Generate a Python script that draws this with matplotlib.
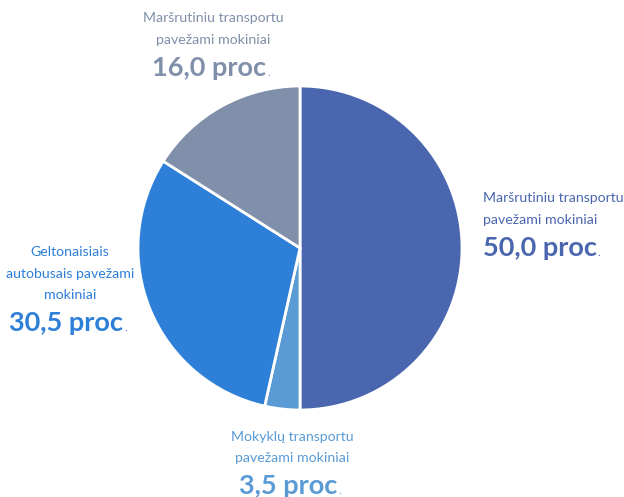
import matplotlib
matplotlib.use('Agg')
import matplotlib.pyplot as plt

categories = ['Maršrutiniu transportu\npavežami mokiniai',
              'Mokyklų transportu\npavežami mokiniai',
              'Geltonaisiais\nautobusais pavežami\nmokiniai',
              'Maršrutiniu transportu\npavežami mokiniai']
values = [50.0, 3.5, 30.5, 16.0]
value_labels = ['50,0 proc', '3,5 proc', '30,5 proc', '16,0 proc']
colors = ['#4a66ae', '#5b9bd5', '#2e7fd8', '#8090aa']

plt.rcParams['font.family'] = ['Lato', 'DejaVu Sans']

fig = plt.figure(figsize=(6.24, 4.97), dpi=100)
ax = fig.add_axes([0, 0, 1, 1])

ax.pie(values, colors=colors, center=(300, 249), radius=162, startangle=90,
       counterclock=False, frame=True,
       wedgeprops=dict(edgecolor='white', linewidth=2))
ax.set_xlim(0, 624)
ax.set_ylim(0, 497)
ax.set_aspect('equal')
ax.axis('off')

# x, centre of first line (px from top), alignment
label_pos = [(483, 198, 'left'), (292, 437, 'center'), (70, 252, 'center'), (213, 18, 'center')]
line_h = 21.5

renderer = fig.canvas.get_renderer()
for cat, lab, col, (x, y, ha) in zip(categories, value_labels, colors, label_pos):
    lines = cat.split('\n')
    for i, line in enumerate(lines):
        ax.text(x, 497 - (y + i * line_h), line, ha=ha, va='center',
                fontsize=10.2, color=col)
    base = 497 - (y + (len(lines) - 1) * line_h + 36)
    x_num = x - 4 if ha == 'center' else x
    t = ax.text(x_num, base, lab, ha=ha, va='baseline', fontsize=19.5,
                fontweight='bold', color=col)
    bb = t.get_window_extent(renderer=renderer)
    dx, _ = ax.transData.inverted().transform((bb.x1, bb.y0))
    ax.text(dx + 1, base, '.', ha='left', va='baseline', fontsize=8, color=col)

fig.savefig('out.png', dpi=100, facecolor='white')
